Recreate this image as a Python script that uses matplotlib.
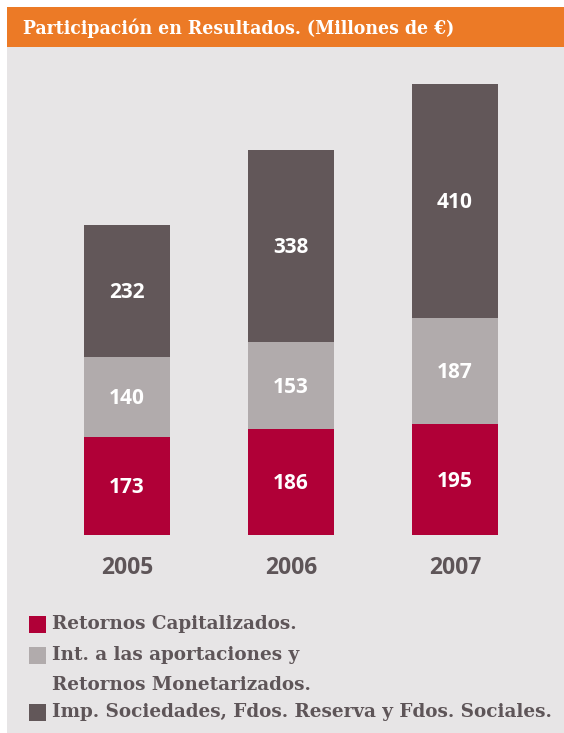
import matplotlib
matplotlib.use("Agg")
import matplotlib.pyplot as plt
from matplotlib.patches import Rectangle

years = ["2005", "2006", "2007"]
retornos_cap = [173, 186, 195]
int_aportaciones = [140, 153, 187]
imp_sociedades = [232, 338, 410]

series_labels = ["Retornos Capitalizados.",
                 "Int. a las aportaciones y\nRetornos Monetarizados.",
                 "Imp. Sociedades, Fdos. Reserva y Fdos. Sociales."]
colors = ["#b00037", "#b1abac", "#625759"]

W, H = 564, 733
fig = plt.figure(figsize=(W / 100, H / 100), dpi=100)
fig.patch.set_facecolor("white")

# gray panel + orange header
fig.patches.append(Rectangle((7 / W, 0), 1, 686 / H, transform=fig.transFigure,
                             facecolor="#e7e5e6", edgecolor="none", zorder=-2))
fig.patches.append(Rectangle((7 / W, 686 / H), 1, 40 / H, transform=fig.transFigure,
                             facecolor="#ec7a26", edgecolor="none", zorder=-2))
fig.text(23 / W, 705 / H, "Participación en Resultados. (Millones de €)",
         color="white", fontsize=13.9, fontweight="bold", family="DejaVu Serif",
         fontstretch="condensed", va="center", ha="left")

# axes placed in pixel terms
ax = fig.add_axes([45 / W, 198 / H, 492 / W, 475 / H])
ax.set_facecolor("none")
ax.set_xlim(-0.5, 2.5)
ax.set_ylim(0, 835)
for s in ax.spines.values():
    s.set_visible(False)
ax.set_yticks([])
ax.set_xticks(range(len(years)))
ax.set_xticklabels(years, fontsize=16.5, fontweight="bold", color="#5e5558",
                   family="Open Sans")
ax.tick_params(axis="x", length=0, pad=15)

x = list(range(len(years)))
bottom = [0] * len(years)
for vals, c in zip([retornos_cap, int_aportaciones, imp_sociedades], colors):
    bars = ax.bar(x, vals, width=0.524, bottom=bottom, color=c, zorder=2)
    for b, v, bt in zip(bars, vals, bottom):
        ax.text(b.get_x() + b.get_width() / 2, bt + v / 2 - 3, str(v),
                ha="center", va="center", color="white", fontsize=15,
                fontweight="bold", family="Open Sans", zorder=3)
    bottom = [a + b for a, b in zip(bottom, vals)]

# legend, drawn by hand (square on first line, wrapped lines indented)
leg_y = [624, 655, 712]
for lbl, c, yy in zip(series_labels, colors, leg_y):
    fig.patches.append(Rectangle((29 / W, (H - yy - 9) / H), 17 / W, 17 / H,
                                 transform=fig.transFigure, facecolor=c,
                                 edgecolor="none"))
    for i, line in enumerate(lbl.split("\n")):
        fig.text(52 / W, (H - yy - 30 * i) / H, line, color="#5e5558",
                 fontsize=13.2, fontweight="bold", family="DejaVu Serif",
                 va="center", ha="left")

fig.savefig("out.png", dpi=100)
